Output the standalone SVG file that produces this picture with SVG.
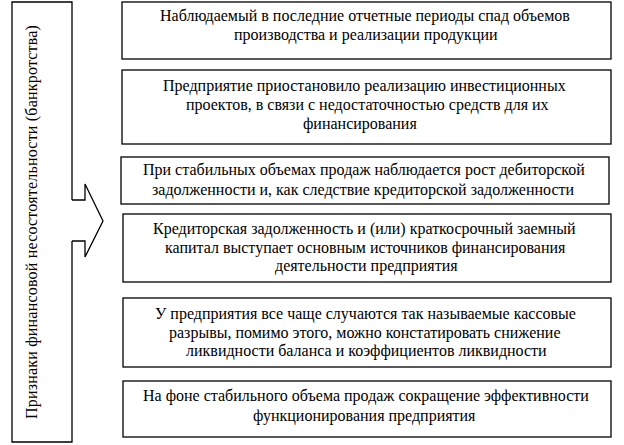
<svg xmlns="http://www.w3.org/2000/svg" width="624" height="445" viewBox="0 0 624 445">
<style>
.box{fill:#fff;stroke:#000;stroke-width:1.3}
.ln{fill:none;stroke:#000;stroke-width:1.3}
</style>
<rect width="624" height="445" fill="#fff"/>
<g id="node-main">
<path class="ln" d="M72,200 L72,2 L12,2 L12,442 L72,442 L72,241"/>
<text transform="translate(37,419) rotate(-90)" font-family="Liberation Serif" font-size="16" letter-spacing="0.2">Признаки финансовой несостоятельности (банкротства)</text>
</g>
<g id="connectors">
<polyline class="ln" points="72,200 85,200 85,184 103,221 85,257 85,241 72,241"/>
</g>
<g id="node-1">
<rect class="box" x="122" y="2" width="489" height="57"/>
<text x="160" y="21" font-family="Liberation Serif" font-size="16">Наблюдаемый в последние отчетные периоды спад объемов</text>
<text x="234" y="40" font-family="Liberation Serif" font-size="16">производства и реализации продукции</text>
</g>
<g id="node-2">
<rect class="box" x="122" y="70" width="489" height="74"/>
<text x="163" y="91" font-family="Liberation Serif" font-size="16">Предприятие приостановило реализацию инвестиционных</text>
<text x="186" y="110" font-family="Liberation Serif" font-size="16">проектов, в связи с недостаточностью средств для их</text>
<text x="303" y="129" font-family="Liberation Serif" font-size="16">финансирования</text>
</g>
<g id="node-3">
<rect class="box" x="121" y="157" width="488" height="47"/>
<text x="143" y="175" font-family="Liberation Serif" font-size="16">При стабильных объемах продаж наблюдается рост дебиторской</text>
<text x="152" y="195" font-family="Liberation Serif" font-size="16">задолженности и, как следствие кредиторской задолженности</text>
</g>
<g id="node-4">
<rect class="box" x="123" y="214" width="488" height="68"/>
<text x="153" y="234" font-family="Liberation Serif" font-size="16">Кредиторская задолженность и (или) краткосрочный заемный</text>
<text x="165" y="253" font-family="Liberation Serif" font-size="16">капитал выступает основным источников финансирования</text>
<text x="275" y="271" font-family="Liberation Serif" font-size="16">деятельности предприятия</text>
</g>
<g id="node-5">
<rect class="box" x="123" y="298" width="488" height="69"/>
<text x="155" y="319" font-family="Liberation Serif" font-size="16">У предприятия все чаще случаются так называемые кассовые</text>
<text x="169" y="338" font-family="Liberation Serif" font-size="16">разрывы, помимо этого, можно констатировать снижение</text>
<text x="186" y="356" font-family="Liberation Serif" font-size="16">ликвидности баланса и коэффициентов ликвидности</text>
</g>
<g id="node-6">
<rect class="box" x="123" y="381" width="488" height="56"/>
<text x="143" y="401" font-family="Liberation Serif" font-size="16">На фоне стабильного объема продаж сокращение эффективности</text>
<text x="253" y="421" font-family="Liberation Serif" font-size="16">функционирования предприятия</text>
</g>
</svg>
